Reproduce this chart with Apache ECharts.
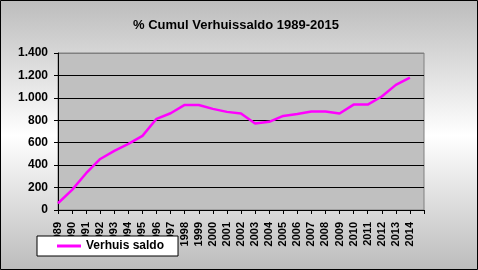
<!DOCTYPE html>
<html><head><meta charset="utf-8">
<script src="https://cdn.jsdelivr.net/npm/echarts@6/dist/echarts.min.js"></script>
<style>html,body{margin:0;padding:0;background:#fff}#c{width:478px;height:270px}</style>
</head><body><div id="c"></div>
<script>
var title = '% Cumul Verhuissaldo 1989-2015';
var seriesName = 'Verhuis saldo';
var years = ['1989','1990','1991','1992','1993','1994','1995','1996','1997','1998','1999','2000','2001','2002','2003','2004','2005','2006','2007','2008','2009','2010','2011','2012','2013','2014','2015'];
var values = [60,179,328,455,527,589,661,813,863,937,937,902,875,860,771,786,839,857,878,878,860,940,940,1012,1116,1181,null];
var yTicks = [0,200,400,600,800,1000,1200,1400];

var chart = echarts.init(document.getElementById('c'), null, {renderer:'canvas'});
var font = 'Liberation Sans, Arial, sans-serif';
chart.setOption({
  animation:false,
  backgroundColor: new echarts.graphic.LinearGradient(0,0,0,1,[
    {offset:0,color:'#bcbcbc'},{offset:0.5,color:'#ffffff'},{offset:1,color:'#bcbcbc'}]),
  title:{text:title,left:128,top:14,textStyle:{fontFamily:font,fontSize:13,fontWeight:'bold',color:'#000'}},
  grid:{left:58,top:53,right:54,bottom:60,show:true,backgroundColor:'#c0c0c0',borderColor:'#808080',borderWidth:1},
  legend:{left:37,top:236,padding:[4,14,4,20],backgroundColor:'#fff',borderColor:'#000',borderWidth:1,
    itemWidth:24,itemHeight:3,icon:'rect',
    textStyle:{fontFamily:font,fontSize:12,fontWeight:'bold',color:'#000'},
    data:[{name:seriesName,itemStyle:{color:'#ff00ff'}}]},
  xAxis:{type:'category',data:years,boundaryGap:false,
    axisLine:{lineStyle:{color:'#000',width:1}},
    axisTick:{show:true,interval:0,length:4,lineStyle:{color:'#000'}},
    axisLabel:{interval:0,rotate:90,margin:12,fontFamily:font,fontSize:11,fontWeight:'bold',color:'#000',
      formatter:function(v,i){return i===years.length-1?'':v;}},
    splitLine:{show:false}},
  yAxis:{type:'value',min:yTicks[0],max:yTicks[yTicks.length-1],interval:200,
    axisLine:{show:true,lineStyle:{color:'#000'}},
    axisTick:{show:true,length:4,lineStyle:{color:'#000'}},
    axisLabel:{margin:10,fontFamily:font,fontSize:12,fontWeight:'bold',color:'#000',
      formatter:function(v){return String(v).replace(/\B(?=(\d{3})+(?!\d))/g,'.');}},
    splitLine:{show:true,lineStyle:{color:['#000','#000','#000','#000','#000','#000','#000','#808080'],width:1}}},
  series:[{name:seriesName,type:'line',data:values,showSymbol:false,symbol:'none',
    lineStyle:{color:'#ff00ff',width:2.5},itemStyle:{color:'#ff00ff'}}],
  graphic:[{type:'rect',shape:{x:0.5,y:0.5,width:477,height:269},style:{fill:null,stroke:'#000',lineWidth:1},z:100}]
});
</script></body></html>
